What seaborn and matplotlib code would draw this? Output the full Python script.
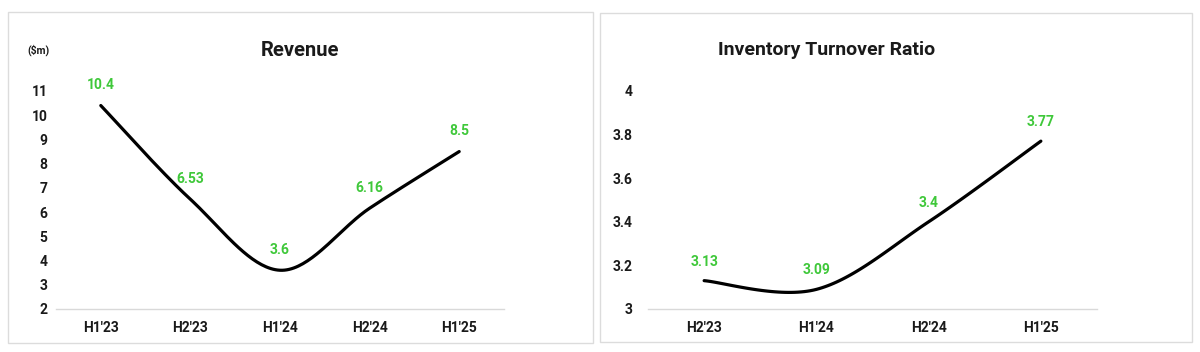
import numpy as np
import pandas as pd
import matplotlib
matplotlib.use("Agg")
import matplotlib.pyplot as plt
from matplotlib.patches import Rectangle
import seaborn as sns

# --------------------------------------------------------------
# Data
# --------------------------------------------------------------
rev_periods = ["H1'23", "H2'23", "H1'24", "H2'24", "H1'25"]
rev_values = [10.4, 6.53, 3.6, 6.16, 8.5]
rev_labels = ["10.4", "6.53", "3.6", "6.16", "8.5"]

itr_periods = ["H2'23", "H1'24", "H2'24", "H1'25"]
itr_values = [3.13, 3.09, 3.4, 3.77]
itr_labels = ["3.13", "3.09", "3.4", "3.77"]

GREEN = "#3fc83a"
TEXT = "#1a1a1a"

sns.set_theme(style="white")
plt.rcParams["font.family"] = ["Roboto", "DejaVu Sans"]
plt.rcParams["font.weight"] = "bold"


def smooth(values, n=40):
    # excel style smoothed line (catmull-rom as bezier)
    x = np.arange(len(values), dtype=float)
    y = np.asarray(values, dtype=float)
    pts = np.column_stack([x, y])
    out = []
    for i in range(len(pts) - 1):
        p0 = pts[max(i - 1, 0)]
        p1 = pts[i]
        p2 = pts[i + 1]
        p3 = pts[min(i + 2, len(pts) - 1)]
        c1 = p1 + (p2 - p0) / 6
        c2 = p2 - (p3 - p1) / 6
        t = np.linspace(0, 1, n)[:, None]
        seg = ((1 - t) ** 3) * p1 + 3 * ((1 - t) ** 2) * t * c1 + 3 * (1 - t) * t**2 * c2 + t**3 * p2
        out.append(seg if i == 0 else seg[1:])
    out = np.vstack(out)
    return pd.DataFrame({"x": out[:, 0], "y": out[:, 1]})


def draw(ax, periods, values, labels, ylim, yticks, ytick_labels, offset, ypad):
    curve = smooth(values)
    sns.lineplot(data=curve, x="x", y="y", ax=ax, color="black", linewidth=2.3,
                 sort=False, estimator=None)
    for i, (v, lab) in enumerate(zip(values, labels)):
        ax.text(i, v + offset, lab, color=GREEN, ha="center", va="bottom",
                fontsize=10, fontweight="bold", clip_on=False)
    ax.set_xlim(-0.5, len(periods) - 0.5)
    ax.set_ylim(*ylim)
    ax.set_xticks(range(len(periods)))
    ax.set_xticklabels(periods)
    ax.set_yticks(yticks)
    ax.set_yticklabels(ytick_labels)
    ax.tick_params(axis="x", length=0, pad=9, labelsize=10, labelcolor=TEXT)
    ax.tick_params(axis="y", length=0, pad=ypad, labelsize=10, labelcolor=TEXT)
    for s in ["top", "right", "left"]:
        ax.spines[s].set_visible(False)
    ax.spines["bottom"].set_color("#d9d9d9")
    ax.spines["bottom"].set_linewidth(1)
    ax.set_xlabel("")
    ax.set_ylabel("")
    ax.patch.set_alpha(0)


W, H = 1200, 352
fig = plt.figure(figsize=(12, 3.52), dpi=100)

# panel borders
fig.patches.append(Rectangle((8 / W, 1 - 343 / H), 585 / W, 331 / H, transform=fig.transFigure,
                             fill=False, edgecolor="#dcdcdc", linewidth=1))
fig.patches.append(Rectangle((600 / W, 1 - 342 / H), 592 / W, 329 / H, transform=fig.transFigure,
                             fill=False, edgecolor="#dcdcdc", linewidth=1))

ax1 = fig.add_axes([56 / W, 1 - 309 / H, 448 / W, 218 / H])
draw(ax1, rev_periods, rev_values, rev_labels, (2, 11), range(2, 12),
     [str(v) for v in range(2, 12)], 0.55, 6)

ax2 = fig.add_axes([648 / W, 1 - 309 / H, 449 / W, 218 / H])
ticks2 = [3, 3.2, 3.4, 3.6, 3.8, 4]
draw(ax2, itr_periods, itr_values, itr_labels, (3, 4), ticks2,
     ["3", "3.2", "3.4", "3.6", "3.8", "4"], 0.055, 11)

fig.text(300 / W, 1 - 50 / H, "Revenue", ha="center", va="center",
         fontsize=14.5, fontweight="bold", color=TEXT)
fig.text(827 / W, 1 - 50 / H, "Inventory Turnover Ratio", ha="center", va="center",
         fontsize=14, fontweight="bold", color=TEXT)
fig.text(38 / W, 1 - 50 / H, "($m)", ha="center", va="center",
         fontsize=7.5, fontweight="bold", color=TEXT)

plt.savefig("out.png", dpi=100)
